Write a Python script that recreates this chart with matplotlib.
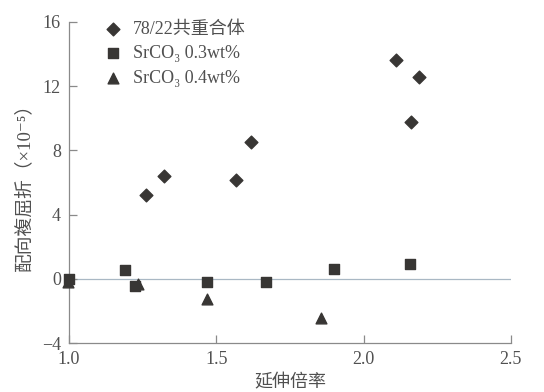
import matplotlib
matplotlib.use("Agg")
import matplotlib.pyplot as plt

# 数据
copolymer_x = [1.262, 1.323, 1.568, 1.619, 2.109, 2.16, 2.187]
copolymer_y = [5.25, 6.38, 6.13, 8.5, 13.6, 9.75, 12.56]

srco3_03_x = [1.0, 1.19, 1.225, 1.47, 1.667, 1.90, 2.157]
srco3_03_y = [0.0, 0.56, -0.45, -0.2, -0.2, 0.6, 0.95]

srco3_04_x = [0.995, 1.235, 1.47, 1.857]
srco3_04_y = [-0.2, -0.35, -1.25, -2.45]

labels = ["78/22共重合体", "SrCO₃ 0.3wt%", "SrCO₃ 0.4wt%"]
x_ticks = [1.0, 1.5, 2.0, 2.5]
y_ticks = [-4, 0, 4, 8, 12, 16]

plt.rcParams["font.family"] = ["Liberation Serif", "Noto Sans CJK SC", "DejaVu Sans"]
plt.rcParams["font.size"] = 12

marker_color = "#383634"
axis_color = "#8a8a8a"
text_color = "#505050"

fig = plt.figure(figsize=(5.44, 3.92), dpi=100)
ax = fig.add_axes([0.127, 0.125, 0.812, 0.819])

ax.axhline(0, color="#a9b8c4", linewidth=0.9, zorder=1)

ax.scatter(copolymer_x, copolymer_y, marker="D", s=42, color=marker_color,
           label=labels[0], zorder=3, clip_on=False)
ax.scatter(srco3_03_x, srco3_03_y, marker="s", s=48, color=marker_color,
           label=labels[1], zorder=3, clip_on=False)
ax.scatter(srco3_04_x, srco3_04_y, marker="^", s=60, color=marker_color,
           label=labels[2], zorder=3, clip_on=False)

ax.set_xlim(1.0, 2.5)
ax.set_ylim(-4, 16)
ax.set_xticks(x_ticks)
ax.set_xticklabels([f"{t:.1f}" for t in x_ticks])
ax.set_yticks(y_ticks)
ax.set_yticklabels([str(t).replace("-", "−") for t in y_ticks])

for side in ["top", "right"]:
    ax.spines[side].set_visible(False)
for side in ["left", "bottom"]:
    ax.spines[side].set_color(axis_color)
    ax.spines[side].set_linewidth(0.9)

ax.tick_params(direction="in", length=6, width=0.9, color=axis_color,
               labelcolor=text_color, labelsize=13, pad=6)

ax.set_xlabel("延伸倍率", color=text_color, fontsize=13, labelpad=4)
ax.set_ylabel("配向複屈折（×10⁻⁵）", color=text_color, fontsize=13.5, labelpad=6)

leg = ax.legend(loc="upper left", bbox_to_anchor=(0.058, 1.027), frameon=False,
                handletextpad=0.5, labelspacing=0.42, fontsize=13,
                handlelength=1.2, borderaxespad=0)
for t in leg.get_texts():
    t.set_color(text_color)

plt.savefig("out.png", dpi=100)
